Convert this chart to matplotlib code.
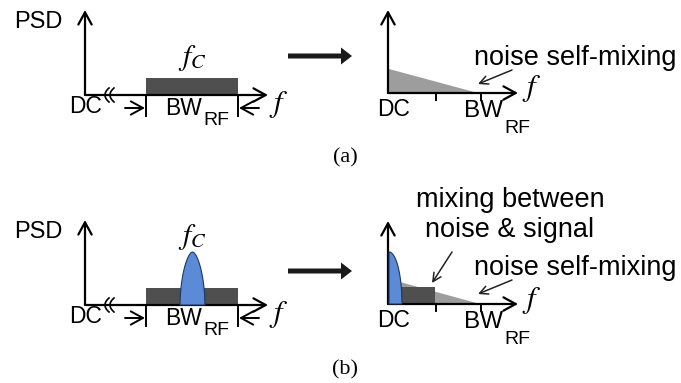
import numpy as np
import matplotlib.pyplot as plt
from matplotlib.patches import Rectangle, Polygon, FancyArrow

plt.rcParams['mathtext.fontset'] = 'stix'

# canvas is laid out in pixel units, y grows downwards
W, H = 681, 383

# baselines of the frequency axes: (a) row and (b) row
row_labels = ['(a)', '(b)']
left_base = [95, 305]
right_base = [93, 304]
has_signal = [False, True]

# left spectrum: RF band around f_C
left_x0, left_x1 = 85, 268
band_edges = [146, 238]
band_height = 17
bell_span = [180, 205]
bell_height = 53

# right spectrum after squaring: baseband
right_x0, right_x1 = 388, 518
right_ticks = [436, 481]
self_mix_top = [24, 25]        # height of the self-mixing triangle at DC
self_mix_end = [478, 480]
cross_band = [401, 435]        # noise x signal product
cross_height = 17
dc_span = [388, 401]

band_dark = '#4f4f4f'
tri_gray = '#9d9d9d'
sig_blue = '#5b8bd6'
sig_edge = '#1f3660'

fig = plt.figure(figsize=(W / 100, H / 100), dpi=100)
ax = fig.add_axes([0, 0, 1, 1])
ax.set_xlim(0, W)
ax.set_ylim(H, 0)
ax.axis('off')

sans = 'Liberation Sans'
serif = 'Liberation Serif'
lab_size = 16.5


def axis_arrow(x0, y0, x1, y1, lw=1.6):
    ax.annotate('', xy=(x1, y1), xytext=(x0, y0),
                arrowprops=dict(arrowstyle='->,head_length=0.55,head_width=0.3',
                                lw=lw, color='black', shrinkA=0, shrinkB=0,
                                mutation_scale=16))


def thin_arrow(x0, y0, x1, y1):
    ax.annotate('', xy=(x1, y1), xytext=(x0, y0),
                arrowprops=dict(arrowstyle='->,head_length=0.5,head_width=0.25',
                                lw=1.1, color='#222', shrinkA=0, shrinkB=0,
                                mutation_scale=12))


def bw_label(xr, y_bw, y_rf, size=lab_size):
    ax.text(xr, y_bw, 'BW', ha='right', va='baseline', fontsize=size, family=sans)
    ax.text(xr + 1, y_rf, 'RF', ha='left', va='baseline', fontsize=14, family=sans)


for i in range(2):
    b = left_base[i]

    # --- input spectrum ---
    ax.text(38, b - 67, 'PSD', ha='center', va='baseline', fontsize=lab_size + 0.5,
            family=sans)
    axis_arrow(left_x0, b, left_x0, b - 85)
    axis_arrow(left_x0, b, left_x1, b)

    # axis break near DC
    t = np.linspace(-1, 1, 20)
    for xb in (105, 110):
        ax.plot(xb + 4 * t ** 2, b + 7 * t, color='black', lw=1.2)

    ax.add_patch(Rectangle((band_edges[0], b - band_height),
                           band_edges[1] - band_edges[0], band_height,
                           facecolor=band_dark, edgecolor='none', zorder=2))
    if has_signal[i]:
        xs = np.linspace(bell_span[0], bell_span[1], 80)
        c = (bell_span[0] + bell_span[1]) / 2
        u = (xs - c) / ((bell_span[1] - bell_span[0]) / 2)
        ys = b - bell_height * np.clip(1 - np.abs(u) ** 1.7, 0, None) ** 0.55
        ax.fill(xs, ys, facecolor=sig_blue, edgecolor=sig_edge, lw=0.8, zorder=3)
        fc_y = b - 68
    else:
        fc_y = b - 37
    ax.text(192, fc_y, r'$f_C$', ha='center', va='center', fontsize=21)

    for xe in band_edges:
        ax.plot([xe, xe], [b, b + 21], color='black', lw=1.4, zorder=4)
    axis_arrow(125, b + 13, band_edges[0] - 1, b + 13, lw=1.4)
    axis_arrow(259, b + 13, band_edges[1] + 1, b + 13, lw=1.4)

    ax.text(86, b + 18, 'DC', ha='center', va='baseline', fontsize=lab_size, family=sans)
    bw_label(202, b + 20, b + 30)
    ax.text(279, b + 9, r'$f$', ha='center', va='center', fontsize=22)

    # --- squaring arrow ---
    ya = 56 if i == 0 else 271
    ax.add_patch(FancyArrow(288, ya, 64, 0, width=5, head_width=17, head_length=11,
                            length_includes_head=True, color='#1a1a1a', lw=0))

    # --- output spectrum ---
    r = right_base[i]
    axis_arrow(right_x0, r, right_x0, r - 83)
    axis_arrow(right_x0, r, right_x1, r)

    ax.add_patch(Polygon([(right_x0 + 1, r - self_mix_top[i]), (self_mix_end[i], r),
                          (right_x0 + 1, r)], closed=True,
                         facecolor=tri_gray, edgecolor='none', zorder=1))
    if has_signal[i]:
        ax.add_patch(Rectangle((cross_band[0], r - cross_height),
                               cross_band[1] - cross_band[0], cross_height,
                               facecolor=band_dark, edgecolor='none', zorder=2))
        dx = np.linspace(0, dc_span[1] - dc_span[0], 40)
        yq = r - (r - 252) * np.sqrt(np.clip(1 - (dx / dx[-1]) ** 2, 0, None))
        xq = np.concatenate([[dc_span[0]], dc_span[0] + dx])
        yq = np.concatenate([[r], yq])
        ax.fill(xq + 1, yq, facecolor=sig_blue, edgecolor=sig_edge, lw=0.8, zorder=3)

    for xt in right_ticks:
        ax.plot([xt, xt], [r, r + 7], color='black', lw=1.4)

    ax.text(393.5, r + 23, 'DC', ha='center', va='baseline', fontsize=lab_size,
            family=sans)
    bw_label(503, r + 24, r + 40, size=lab_size + 1)
    ax.text(532, r - 4, r'$f$', ha='center', va='center', fontsize=22)

    # annotations
    ny = 65 if i == 0 else 275
    ax.text(575, ny, 'noise self-mixing', ha='center', va='baseline',
            fontsize=19.5, family=sans)
    thin_arrow(512, ny + 5, 478, ny + 19)
    if has_signal[i]:
        ax.text(510, 207, 'mixing between', ha='center', va='baseline',
                fontsize=19.5, family=sans)
        ax.text(510, 237, 'noise & signal', ha='center', va='baseline',
                fontsize=19.5, family=sans)
        thin_arrow(452, 252, 432, 283)

    ax.text(345, 158 if i == 0 else 370, row_labels[i], ha='center', va='center',
            fontsize=16, family=serif)

fig.savefig('out.png', dpi=100)
